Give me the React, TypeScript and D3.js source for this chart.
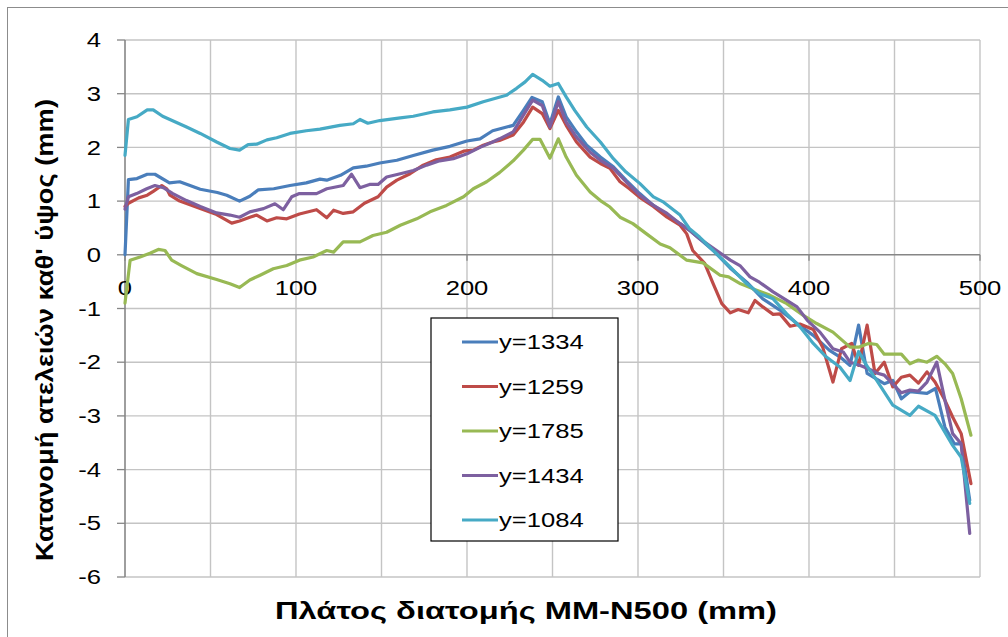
import React from 'react';
import * as d3 from 'd3';

// readings, [width mm, imperfection mm]
const y1334: [number, number][] = [
  [0, 0], [2, 1.40], [7, 1.42], [13, 1.50], [17.5, 1.50], [26, 1.34], [32, 1.36], [44, 1.22], [54, 1.16],
  [59.5, 1.11], [67, 1.00], [73, 1.09], [78, 1.21], [87, 1.23], [96.5, 1.29], [106, 1.34], [114, 1.41],
  [118, 1.39], [126, 1.48], [133.5, 1.62], [141, 1.65], [149, 1.71], [159, 1.76], [168.6, 1.85], [180, 1.95],
  [190, 2.02], [200, 2.12], [207.6, 2.16], [215, 2.31], [227, 2.41], [233, 2.69], [238, 2.93], [244, 2.85],
  [248.5, 2.44], [253.4, 2.94], [258, 2.57], [264, 2.29], [270, 2.04], [278, 1.82], [285.6, 1.64], [293, 1.39],
  [301, 1.14], [309, 0.92], [317, 0.74], [324.6, 0.58], [330, 0.46], [336, 0.30], [344, 0.08], [354, -0.25],
  [363.6, -0.51], [373, -0.82], [383, -1.03], [393, -1.28], [402.5, -1.50], [412, -1.78], [418, -1.90],
  [424, -2.06], [429, -1.31], [434, -2.21], [444, -2.40], [449, -2.34], [454, -2.68], [459, -2.55],
  [469, -2.58], [474, -2.49], [479.5, -3.21], [485, -3.52], [489, -3.52], [494, -4.57],
];

const y1259: [number, number][] = [
  [0, 0.90], [2, 0.96], [8, 1.06], [13, 1.11], [16.5, 1.18], [21.5, 1.29], [24.4, 1.23], [26.3, 1.11], [32, 1.00],
  [44, 0.86], [53.6, 0.75], [62.4, 0.59], [67, 0.63], [73, 0.70], [77, 0.74], [83, 0.63], [88.7, 0.69],
  [94.6, 0.67], [102, 0.76], [112, 0.84], [118, 0.69], [122, 0.83], [127.6, 0.77], [133.5, 0.80], [140, 0.96],
  [148, 1.08], [153, 1.26], [159, 1.39], [166.7, 1.51], [174.4, 1.67], [182, 1.77], [190, 1.82], [198, 1.93],
  [203.7, 1.95], [209.5, 2.04], [215, 2.10], [219, 2.13], [227, 2.23], [233, 2.47], [238.4, 2.75], [244, 2.63],
  [248.5, 2.35], [253.4, 2.69], [258, 2.41], [264, 2.10], [272, 1.82], [278, 1.70], [283.6, 1.61], [289.5, 1.36],
  [295, 1.23], [301, 1.07], [309, 0.90], [317, 0.70], [324.6, 0.55], [328.5, 0.39], [332, 0.08], [339, -0.16],
  [344, -0.54], [349, -0.91], [354, -1.08], [358.6, -1.02], [364.5, -1.08], [368.4, -0.85], [373, -0.97],
  [379, -1.11], [383, -1.10], [389, -1.33], [394.7, -1.29], [402.5, -1.39], [408, -1.72], [414, -2.37],
  [419, -1.75], [425, -1.65], [429, -2.06], [434, -1.31], [438.6, -2.21], [444, -2.00], [449, -2.46],
  [454, -2.28], [459, -2.24], [464, -2.39], [469, -2.18], [473.7, -2.37], [479.5, -2.71], [484, -3.02],
  [489, -3.33], [494.7, -4.26],
];

const y1785: [number, number][] = [
  [0, -0.90], [3, -0.10], [8.8, -0.04], [14.6, 0.03], [19.5, 0.10], [23.4, 0.08], [27.3, -0.10], [33, -0.20],
  [42, -0.35], [53.6, -0.46], [61.4, -0.54], [67, -0.61], [73, -0.47], [79, -0.38], [86.7, -0.26], [94.6, -0.20],
  [102, -0.10], [110, -0.04], [118, 0.08], [122, 0.05], [127.6, 0.24], [137.4, 0.24], [145, 0.36], [153, 0.42],
  [161, 0.55], [170.6, 0.67], [178.4, 0.80], [188, 0.92], [198, 1.08], [203.7, 1.23], [211.5, 1.36], [219, 1.53],
  [227, 1.75], [233, 1.95], [238.4, 2.15], [242.7, 2.15], [248.5, 1.80], [253.4, 2.16], [258, 1.82], [264, 1.48],
  [272, 1.17], [278, 1.01], [283.6, 0.89], [289.5, 0.70], [297, 0.58], [305, 0.39], [313, 0.20], [318.7, 0.13],
  [328.5, -0.10], [338, -0.15], [348, -0.38], [353, -0.41], [360, -0.54], [367, -0.63], [377, -0.75],
  [387, -0.91], [396.7, -1.13], [404.5, -1.28], [414, -1.44], [424, -1.72], [429, -1.72], [434.7, -1.65],
  [439.6, -1.67], [444, -1.85], [454, -1.85], [459, -2.03], [464, -1.96], [469, -2.00], [474.7, -1.89],
  [479.5, -2.03], [484, -2.21], [489, -2.68], [494.7, -3.36],
];

const y1434: [number, number][] = [
  [0, 0.85], [2, 1.08], [6.8, 1.14], [12.7, 1.23], [17.5, 1.29], [22.4, 1.25], [28, 1.14], [36, 1.01], [44, 0.90],
  [53.6, 0.78], [61.4, 0.74], [67, 0.70], [73, 0.80], [81, 0.86], [87.7, 0.95], [92.6, 0.84], [97.5, 1.08],
  [102, 1.14], [112, 1.14], [118, 1.23], [127.6, 1.29], [132.5, 1.50], [137.4, 1.25], [143, 1.31], [148, 1.31],
  [153, 1.45], [161, 1.51], [168.6, 1.57], [176.4, 1.67], [184, 1.75], [192, 1.79], [200, 1.88], [207.6, 2.00],
  [215, 2.10], [219, 2.16], [227, 2.29], [233, 2.60], [238.4, 2.88], [244, 2.78], [248.5, 2.38], [253.4, 2.85],
  [258, 2.47], [264, 2.19], [272, 1.91], [278, 1.76], [285.6, 1.61], [293, 1.36], [301, 1.11], [309, 0.92],
  [317, 0.77], [324.6, 0.58], [330, 0.46], [336, 0.30], [346, 0.08], [354, -0.10], [359.6, -0.20],
  [365.5, -0.41], [371, -0.51], [379, -0.69], [387, -0.85], [393, -0.97], [399, -1.22], [406.4, -1.44],
  [414, -1.75], [420, -1.81], [424, -2.00], [430, -2.06], [434.7, -2.12], [439.6, -2.20], [444, -2.24],
  [454, -2.57], [459, -2.52], [464, -2.54], [469, -2.37], [474.7, -2.00], [479.5, -2.71], [484, -3.33],
  [489, -3.52], [494, -5.19],
];

const y1084: [number, number][] = [
  [0, 1.85], [2, 2.52], [7, 2.57], [13, 2.70], [16.5, 2.70], [22, 2.58], [36, 2.38], [44, 2.26], [53.6, 2.10],
  [61.4, 1.98], [67, 1.95], [72, 2.05], [77, 2.06], [83, 2.14], [88.7, 2.18], [96.5, 2.26], [106, 2.31],
  [114, 2.34], [125.7, 2.41], [133.5, 2.44], [137.4, 2.52], [142, 2.45], [149, 2.50], [161, 2.55], [168.6, 2.58],
  [180, 2.66], [190, 2.70], [200, 2.75], [209.5, 2.85], [223, 2.97], [229, 3.10], [234, 3.22], [238.4, 3.36],
  [244, 3.25], [248.5, 3.14], [253.4, 3.19], [258, 2.94], [263, 2.69], [270, 2.38], [278, 2.10], [285.6, 1.79],
  [293, 1.54], [301, 1.33], [309, 1.08], [315, 0.98], [324.6, 0.74], [330, 0.49], [336, 0.33], [344, 0.08],
  [354, -0.23], [363.6, -0.54], [371, -0.72], [379, -0.82], [387, -1.10], [394.7, -1.34], [402.5, -1.65],
  [410, -1.90], [418, -2.09], [424, -2.34], [429, -1.80], [433.7, -2.06], [439.6, -2.34], [449, -2.80],
  [459, -2.99], [464, -2.82], [473.7, -2.99], [484, -3.55], [489, -3.77], [494, -4.63],
];

const seriesNames = ['y=1334', 'y=1259', 'y=1785', 'y=1434', 'y=1084'];
const seriesData = [y1334, y1259, y1785, y1434, y1084];
const seriesColors = ['#4a7ebb', '#be4b48', '#98b954', '#7d60a0', '#46aac5'];

const xTicks = [0, 100, 200, 300, 400, 500];
const yTicks = [-6, -5, -4, -3, -2, -1, 0, 1, 2, 3, 4];
const xGrid = d3.range(50, 501, 50);

const xTitle = 'Πλάτος διατομής MM-N500 (mm)';
const yTitle = "Κατανομή ατελειών καθ' ύψος (mm)";

const W = 1008;
const H = 637;
const PLOT = { left: 125, right: 980, top: 40, bottom: 577 };
const SX = 1.22; // the picture is stretched sideways a little
const FONT = '"Liberation Sans", Arial, sans-serif';

export default function App() {
  const x = d3.scaleLinear().domain([0, 500]).range([PLOT.left, PLOT.right]);
  const y = d3.scaleLinear().domain([-6, 4]).range([PLOT.bottom, PLOT.top]);
  const line = d3.line<[number, number]>()
    .x(d => x(d[0]))
    .y(d => y(d[1]));

  const legend = { x: 431, y: 318, w: 187, h: 223, first: 342, step: 44.5 };

  return (
    <svg width={W} height={H} style={{ position: 'absolute', left: 0, top: 0, background: '#fff' }} fontFamily={FONT}>
      <rect x={7.5} y={7.5} width={W + 10} height={H + 10} fill="#fff" stroke="#8c8c8c" strokeWidth={1} />

      {/* grid */}
      {yTicks.filter(t => t !== 0).map(t => (
        <line key={'gy' + t} x1={PLOT.left} x2={PLOT.right} y1={y(t)} y2={y(t)} stroke="#c4c4c4" strokeWidth={1.4} />
      ))}
      {xGrid.map(t => (
        <line key={'gx' + t} x1={x(t)} x2={x(t)} y1={PLOT.top} y2={PLOT.bottom} stroke="#c4c4c4" strokeWidth={1.4} />
      ))}

      {/* axes */}
      <line x1={PLOT.left} x2={PLOT.left} y1={PLOT.top} y2={PLOT.bottom} stroke="#868686" strokeWidth={1.6} />
      {yTicks.map(t => (
        <line key={'ty' + t} x1={PLOT.left - 8} x2={PLOT.left} y1={y(t)} y2={y(t)} stroke="#868686" strokeWidth={1.3} />
      ))}
      <line x1={PLOT.left} x2={PLOT.right} y1={y(0)} y2={y(0)} stroke="#868686" strokeWidth={1.6} />
      {xTicks.map(t => (
        <line key={'tx' + t} x1={x(t)} x2={x(t)} y1={y(0)} y2={y(0) + 6} stroke="#868686" strokeWidth={1.3} />
      ))}

      {/* tick labels */}
      {yTicks.map(t => (
        <text key={'ly' + t} transform={`translate(101,${y(t)}) scale(${SX},1)`} textAnchor="end"
          dominantBaseline="central" fontSize={21} fill="#000">{t}</text>
      ))}
      {xTicks.map(t => (
        <text key={'lx' + t} transform={`translate(${x(t)},${y(0) + 33}) scale(${SX},1)`} textAnchor="middle"
          dominantBaseline="central" fontSize={21} fill="#000">{t}</text>
      ))}

      {/* series */}
      {seriesData.map((d, i) => (
        <path key={seriesNames[i]} d={line(d) || ''} fill="none" stroke={seriesColors[i]}
          strokeWidth={3.2} strokeLinejoin="round" strokeLinecap="round" />
      ))}

      {/* legend */}
      <rect x={legend.x} y={legend.y} width={legend.w} height={legend.h} fill="#fff" stroke="#000" strokeWidth={1.2} />
      {seriesNames.map((name, i) => {
        const ly = legend.first + i * legend.step;
        return (
          <g key={'lg' + name}>
            <line x1={462} x2={498} y1={ly} y2={ly} stroke={seriesColors[i]} strokeWidth={3.2} />
            <text transform={`translate(499,${ly}) scale(${SX},1)`} dominantBaseline="central" fontSize={21} fill="#000">{name}</text>
          </g>
        );
      })}

      {/* titles */}
      <text x={526} y={611} textAnchor="middle" dominantBaseline="central" textLength={502}
        lengthAdjust="spacingAndGlyphs" fontSize={23} fontWeight="bold" fill="#000">{xTitle}</text>
      <text transform="translate(45,330) rotate(-90)" textAnchor="middle" dominantBaseline="central"
        textLength={462} lengthAdjust="spacingAndGlyphs" fontSize={23} fontWeight="bold" fill="#000">{yTitle}</text>
    </svg>
  );
}
